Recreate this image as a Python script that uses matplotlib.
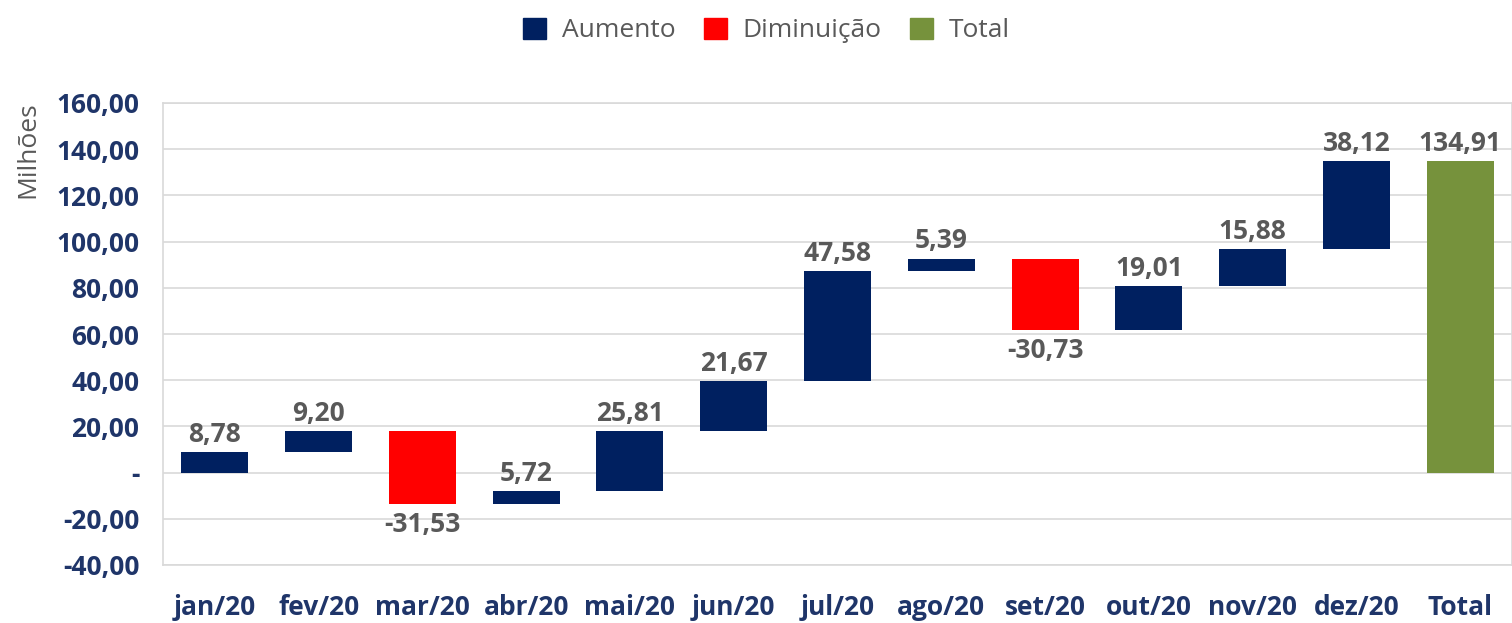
import matplotlib.pyplot as plt
from matplotlib.patches import Patch
from matplotlib.ticker import FuncFormatter

months = ['jan/20', 'fev/20', 'mar/20', 'abr/20', 'mai/20', 'jun/20', 'jul/20',
          'ago/20', 'set/20', 'out/20', 'nov/20', 'dez/20']
changes = [8.78, 9.20, -31.53, 5.72, 25.81, 21.67, 47.58, 5.39, -30.73, 19.01, 15.88, 38.12]
total = 134.91

NAVY = '#002060'
RED = '#FF0000'
GREEN = '#76923C'
LABEL_GRAY = '#595959'
TICK_BLUE = '#1F3569'


def br(v):
    return f'{v:.2f}'.replace('.', ',')


def ytick(v, pos):
    if abs(v) < 1e-9:
        return '-'
    return br(v)


plt.rcParams['font.family'] = ['Open Sans', 'DejaVu Sans']

fig = plt.figure(figsize=(15.12, 6.23), dpi=100)
ax = fig.add_axes([163 / 1512, 1 - 565 / 623, 1 - 163 / 1512, (565 - 103) / 623])

cats = months + ['Total']
starts, heights, colors = [], [], []
run = 0.0
for v in changes:
    starts.append(run)
    heights.append(v)
    colors.append(NAVY if v >= 0 else RED)
    run += v
starts.append(0)
heights.append(total)
colors.append(GREEN)

x = list(range(len(cats)))
ax.bar(x, heights, bottom=starts, width=0.645, color=colors, zorder=3)

# data labels: above rises, below drops
for i, (s, h) in enumerate(zip(starts, heights)):
    if h >= 0:
        ax.annotate(br(h), (i, s + h), xytext=(0, 3), textcoords='offset points',
                    ha='center', va='bottom', fontsize=19, fontweight='bold',
                    color=LABEL_GRAY)
    else:
        ax.annotate(br(h), (i, s + h), xytext=(0, -5), textcoords='offset points',
                    ha='center', va='top', fontsize=19, fontweight='bold',
                    color=LABEL_GRAY)

ax.set_xlim(-0.5, len(cats) - 0.5)
ax.set_ylim(-40, 160)
ax.set_yticks(range(-40, 161, 20))
ax.yaxis.set_major_formatter(FuncFormatter(ytick))
ax.set_xticks(x)
ax.set_xticklabels(cats)
ax.tick_params(axis='both', length=0, labelsize=19, labelcolor=TICK_BLUE)
ax.tick_params(axis='x', pad=21)
ax.tick_params(axis='y', pad=17)
for lbl in ax.get_xticklabels() + ax.get_yticklabels():
    lbl.set_fontweight('bold')

ax.grid(True, axis='y', color='#D9D9D9', linewidth=1.2, zorder=0)
ax.set_axisbelow(True)
for sp in ax.spines.values():
    sp.set_color('#D9D9D9')
    sp.set_linewidth(1.2)

ax.set_ylabel('Milhões', fontsize=19, color=LABEL_GRAY)
ax.yaxis.set_label_coords(-0.091, 0.90)

handles = [Patch(color=NAVY, label='Aumento'), Patch(color=RED, label='Diminuição'),
           Patch(color=GREEN, label='Total')]
fig.legend(handles=handles, loc='upper center', bbox_to_anchor=(0.507, 1.01), ncol=3,
           frameon=False, fontsize=19, labelcolor=LABEL_GRAY, handlelength=0.85,
           handleheight=0.85, columnspacing=1.1, handletextpad=0.6)

fig.savefig('out.png', dpi=100)
